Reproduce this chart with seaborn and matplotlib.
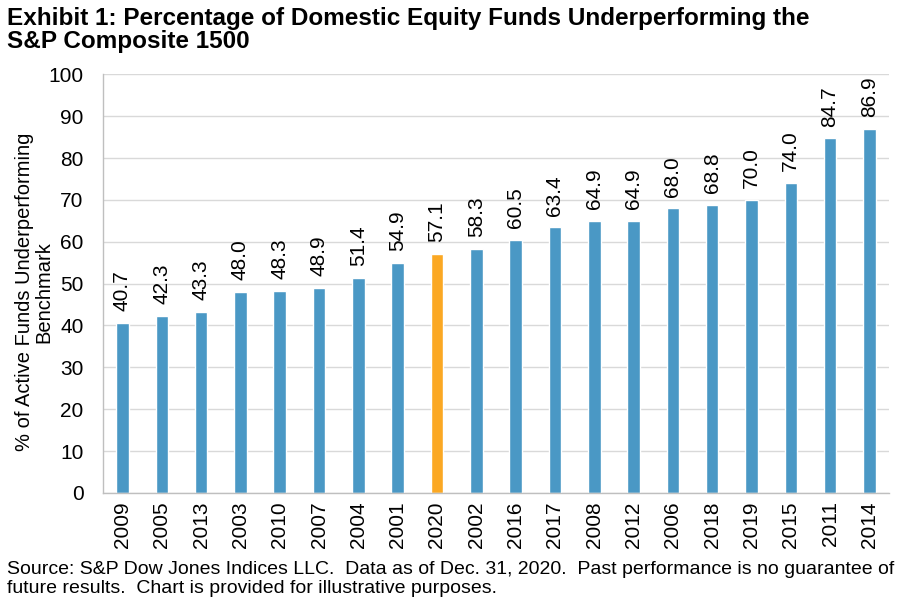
import matplotlib
matplotlib.use("Agg")
import matplotlib.pyplot as plt
import seaborn as sns
import pandas as pd

years = ["2009", "2005", "2013", "2003", "2010", "2007", "2004", "2001", "2020", "2002",
         "2016", "2017", "2008", "2012", "2006", "2018", "2019", "2015", "2011", "2014"]
values = [40.7, 42.3, 43.3, 48.0, 48.3, 48.9, 51.4, 54.9, 57.1, 58.3,
          60.5, 63.4, 64.9, 64.9, 68.0, 68.8, 70.0, 74.0, 84.7, 86.9]
highlight_year = "2020"
yticks = list(range(0, 101, 10))

sns.set_theme(style="white")
plt.rcParams['font.family'] = ['Liberation Sans', 'DejaVu Sans']
plt.rcParams['text.color'] = 'black'

blue = "#4A98C5"
orange = "#FBA823"
palette = {y: (orange if y == highlight_year else blue) for y in years}

df = pd.DataFrame({"year": years, "value": values})

fig = plt.figure(figsize=(9.1, 6.04), dpi=100)
ax = fig.add_axes([0.113, 0.184, 0.864, 0.693])
sns.barplot(data=df, x="year", y="value", hue="year", palette=palette,
            order=years, width=0.32, legend=False, ax=ax, saturation=1)

ax.set_ylim(0, 100)
ax.set_yticks(yticks)
ax.set_xlim(-0.5, len(years) - 0.5)
ax.yaxis.grid(True, color="#D9D9D9", linewidth=1)
ax.set_axisbelow(True)
for s in ["top", "right"]:
    ax.spines[s].set_visible(False)
for s in ["left", "bottom"]:
    ax.spines[s].set_color("#BFBFBF")
    ax.spines[s].set_linewidth(1)
fs = 15
ax.tick_params(axis="y", labelsize=fs, length=0, pad=14, colors="black")
ax.tick_params(axis="x", labelsize=fs, length=0, pad=6, rotation=90, colors="black")
ax.set_xlabel("")
ax.set_ylabel("% of Active Funds Underperforming\nBenchmark", fontsize=14.5, color="black",
              labelpad=1, linespacing=1.05)
ax.yaxis.set_label_coords(-0.063, 0.48)

for i, v in enumerate(values):
    ax.text(i, v + 2.8, f"{v:.1f}", rotation=90, ha="center", va="bottom", fontsize=fs, color="black")

fig.text(0.008, 0.988, "Exhibit 1: Percentage of Domestic Equity Funds Underperforming the\nS&P Composite 1500",
         fontsize=17.5, fontweight="bold", ha="left", va="top", linespacing=1.0, color="black")
fig.text(0.008, 0.012, "Source: S&P Dow Jones Indices LLC.  Data as of Dec. 31, 2020.  Past performance is no guarantee of\nfuture results.  Chart is provided for illustrative purposes.",
         fontsize=14, ha="left", va="bottom", linespacing=1.15, color="black")

fig.savefig("out.png", dpi=100)
